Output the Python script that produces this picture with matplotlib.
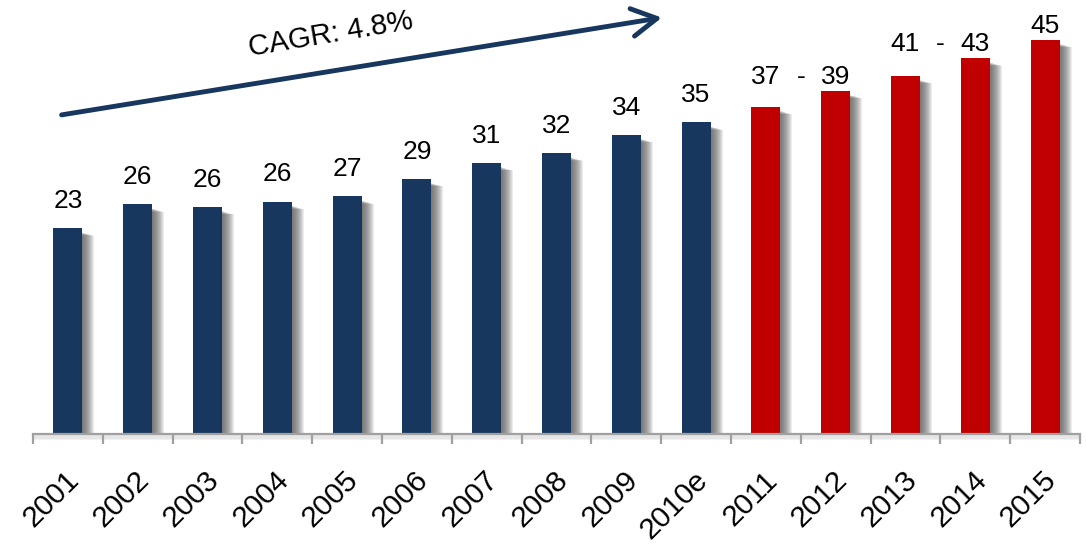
import matplotlib
matplotlib.use('Agg')
import matplotlib.pyplot as plt
from matplotlib.transforms import ScaledTranslation

plt.rcParams['font.family'] = ['Liberation Sans', 'DejaVu Sans']

# Data (labels as printed)
years = ['2001', '2002', '2003', '2004', '2005', '2006', '2007', '2008',
         '2009', '2010e', '2011', '2012', '2013', '2014', '2015']
values = [23.4, 26.1, 25.8, 26.4, 27.0, 29.0, 30.8, 31.9, 34.0, 35.4,
          37.2, 39.0, 40.7, 42.7, 44.8]
labels = ['23', '26', '26', '26', '27', '29', '31', '32', '34', '35',
          '37', '39', '41', '43', '45']
n_actual = 10          # 2001-2010e in navy, the rest are forecasts in red
range_pairs = [(10, 11), (12, 13)]   # shown as "37 - 39" and "41 - 43"
cagr_text = 'CAGR: 4.8%'

navy = '#17375E'
red = '#C00000'
gray = '#A0A0A0'

fig = plt.figure(figsize=(10.86, 5.45), dpi=100)
ax = fig.add_axes([33 / 1086, 111 / 545, 1047 / 1086, 434 / 545])

x = list(range(len(years)))
colors = [navy if i < n_actual else red for i in x]
width = 0.415
px_x = 1 / 69.8   # one pixel in category units
px_y = 1 / 8.8    # one pixel in value units

# soft drop shadow to the right of each bar
for k in range(1, 13):
    ax.bar([i + k * px_x for i in x], [v - 4 * px_y - k * 0.3 * px_y for v in values],
           width=width, color='#555555', alpha=0.11, zorder=1, linewidth=0)
# faint shadow under the axis line
for k in range(1, 6):
    ax.axhline(-k * px_y, color='#808080', alpha=0.12, lw=1.2, zorder=1, clip_on=False)

ax.bar(x, values, width=width, color=colors, zorder=3, linewidth=0)

# value labels
for i in x:
    if i < n_actual:
        ax.annotate(labels[i], (i, values[i]), xytext=(0, 14.5), textcoords='offset points',
                    ha='center', va='baseline', fontsize=19, color='black')
    else:
        top = values[i]
        for a, b in range_pairs:
            if i in (a, b):
                top = max(values[a], values[b])
        ax.annotate(labels[i], (i, top), xytext=(0, 5), textcoords='offset points',
                    ha='center', va='baseline', fontsize=19, color='black')
for a, b in range_pairs:
    top = max(values[a], values[b])
    ax.annotate('-', ((a + b) / 2, top), xytext=(0, 5), textcoords='offset points',
                ha='center', va='baseline', fontsize=19, color='black')

# CAGR arrow
ax.annotate('', xy=(8.51, 47.3), xytext=(-0.09, 36.25),
            arrowprops=dict(arrowstyle='->,head_length=0.9,head_width=0.5', lw=3.5,
                            color=navy, mutation_scale=20, shrinkA=0, shrinkB=0))
ax.text(3.77, 45.4, cagr_text, rotation=9.5, ha='center', va='center',
        fontsize=21, color='black', rotation_mode='anchor')

# axes styling
ax.set_xlim(-0.5, len(years) - 0.5)
ax.set_ylim(0, 49.3)
for s in ['top', 'right', 'left']:
    ax.spines[s].set_visible(False)
ax.spines['bottom'].set_color(gray)
ax.spines['bottom'].set_linewidth(1.6)
ax.spines['bottom'].set_zorder(4)
ax.set_yticks([])

ax.set_xticks(x)
ax.set_xticklabels(years, rotation=45, ha='right', va='top', fontsize=21.5,
                   rotation_mode='anchor')
ax.tick_params(axis='x', which='major', length=0, pad=23)
ax.set_xticks([i - 0.5 for i in range(len(years) + 1)], minor=True)
ax.tick_params(axis='x', which='minor', length=7, width=1.6, color=gray, direction='out')
offset = ScaledTranslation(-3 / 100, 0, fig.dpi_scale_trans)
for lab in ax.get_xticklabels():
    lab.set_transform(lab.get_transform() + offset)

fig.savefig('out.png', dpi=100)
